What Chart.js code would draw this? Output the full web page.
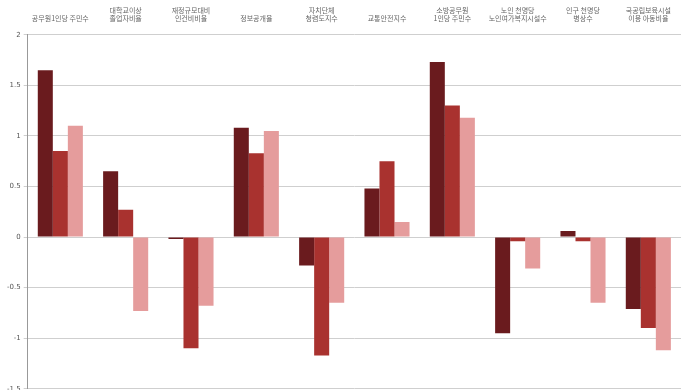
<!DOCTYPE html>
<html>
<head>
<meta charset="utf-8">
<script src="https://cdn.jsdelivr.net/npm/chart.js@4/dist/chart.umd.min.js"></script>
<style>
  html, body { margin: 0; padding: 0; background: #fff; overflow: hidden; }
  #wrap { width: 681px; height: 396px; }
</style>
</head>
<body>
<div id="wrap"><canvas id="grafico"></canvas></div>
<script>
// Categorias (etiquetas de dos lineas)
const categorias = [
    ['공무원1인당 주민수'],
    ['대학교이상', '졸업자비율'],
    ['재정규모대비', '인건비비율'],
    ['정보공개율'],
    ['자치단체', '청렴도지수'],
    ['교통안전지수'],
    ['소방공무원', '1인당 주민수'],
    ['노인 천명당', '노인여가복지시설수'],
    ['인구 천명당', '병상수'],
    ['국공립보육시설', '이용 아동비율']
];

// Valores de cada serie
const serie1 = [1.65, 0.65, -0.02, 1.08, -0.28, 0.48, 1.73, -0.95, 0.06, -0.71];
const serie2 = [0.85, 0.27, -1.10, 0.83, -1.17, 0.75, 1.30, -0.04, -0.04, -0.90];
const serie3 = [1.10, -0.73, -0.68, 1.05, -0.65, 0.15, 1.18, -0.31, -0.65, -1.12];

const ticksY = [2, 1.5, 1, 0.5, 0, -0.5, -1, -1.5];

function crearGrafico() {
    const ctx = document.getElementById('grafico').getContext('2d');
    new Chart(ctx, {
        type: 'bar',
        data: {
            labels: categorias,
            datasets: [
                { label: 'A', data: serie1, backgroundColor: '#6a1b1e' },
                { label: 'B', data: serie2, backgroundColor: '#a9322f' },
                { label: 'C', data: serie3, backgroundColor: '#e59c9c' }
            ]
        },
        options: {
            responsive: true,
            maintainAspectRatio: false,
            animation: false,
            layout: { padding: { left: 4, right: 0, top: 2, bottom: 0 } },
            datasets: {
                bar: { categoryPercentage: 0.69, barPercentage: 1.0 }
            },
            plugins: {
                legend: { display: false },
                tooltip: { enabled: false }
            },
            scales: {
                x: {
                    position: 'top',
                    grid: { display: false },
                    border: { display: false },
                    ticks: {
                        color: '#666',
                        font: { family: 'Noto Sans CJK KR', size: 7 },
                        maxRotation: 0,
                        autoSkip: false,
                        padding: 4
                    }
                },
                y: {
                    min: -1.5,
                    max: 2,
                    afterBuildTicks: axis => {
                        axis.ticks = ticksY.map(v => ({ value: v }));
                    },
                    grid: { color: '#cfcfcf', drawTicks: true, tickLength: 4 },
                    border: { color: '#999' },
                    ticks: {
                        color: '#555',
                        font: { family: 'DejaVu Sans', size: 7 },
                        padding: 3,
                        callback: v => String(v)
                    }
                }
            }
        }
    });
}

document.addEventListener('DOMContentLoaded', crearGrafico);
</script>
</body>
</html>
